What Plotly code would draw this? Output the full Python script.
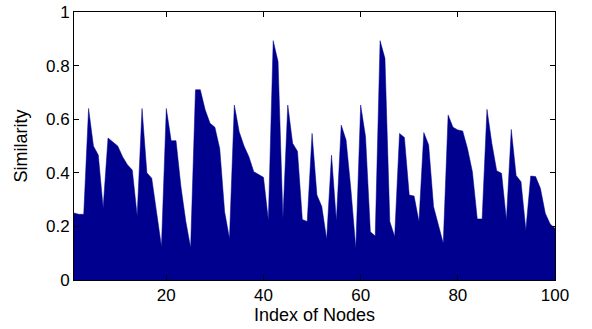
import plotly.graph_objects as go

node_index = list(range(1, 101))
similarity = [
    0.25, 0.245, 0.245, 0.64, 0.50, 0.466, 0.27, 0.53, 0.515, 0.50,
    0.46, 0.43, 0.41, 0.24, 0.64, 0.40, 0.38, 0.26, 0.125, 0.64,
    0.52, 0.52, 0.35, 0.22, 0.12, 0.71, 0.71, 0.635, 0.585, 0.57,
    0.49, 0.255, 0.155, 0.653, 0.553, 0.50, 0.46, 0.404, 0.395, 0.383,
    0.224, 0.893, 0.815, 0.23, 0.653, 0.51, 0.48, 0.226, 0.218, 0.547,
    0.317, 0.274, 0.152, 0.466, 0.221, 0.578, 0.522, 0.336, 0.118, 0.653,
    0.535, 0.18, 0.164, 0.893, 0.827, 0.218, 0.162, 0.547, 0.532, 0.317,
    0.313, 0.218, 0.55, 0.504, 0.274, 0.20, 0.137, 0.616, 0.57, 0.56,
    0.556, 0.49, 0.404, 0.228, 0.228, 0.637, 0.51, 0.408, 0.398, 0.224,
    0.562, 0.39, 0.367, 0.187, 0.388, 0.386, 0.342, 0.249, 0.209, 0.193,
]
x_ticks = [20, 40, 60, 80, 100]
y_ticks = [0, 0.2, 0.4, 0.6, 0.8, 1]
y_tick_labels = ["0", "0.2", "0.4", "0.6", "0.8", "1"]

fill_color = "#00008F"

fig = go.Figure()
fig.add_trace(go.Scatter(
    x=node_index, y=similarity, mode="lines",
    fill="tozeroy", fillcolor=fill_color,
    line=dict(color=fill_color, width=0.5),
    showlegend=False, hoverinfo="x+y",
))

font = dict(family="Liberation Sans, Arial, sans-serif", size=17, color="black")

fig.update_layout(
    width=592, height=329,
    margin=dict(l=74, r=37, t=12, b=49),
    paper_bgcolor="white", plot_bgcolor="white",
    font=font,
    xaxis=dict(
        range=[1, 100], tickvals=x_ticks, ticks="inside", ticklen=5,
        tickcolor="black", showline=True, linecolor="black", linewidth=1,
        mirror="ticks", showgrid=False, zeroline=False, automargin=False,
        ticklabeloverflow="allow",
        title=dict(text="Index of Nodes", font=dict(size=18), standoff=3),
    ),
    yaxis=dict(
        range=[0, 1], tickvals=y_ticks, ticktext=y_tick_labels,
        ticks="inside", ticklen=5, tickcolor="black", showline=True,
        linecolor="black", linewidth=1, mirror="ticks", showgrid=False,
        zeroline=False, automargin=False, ticklabeloverflow="allow",
        title=dict(text="Similarity", font=dict(size=18), standoff=13),
    ),
)

fig.write_html(
    "out.html",
    config={"displayModeBar": False},
    post_script="document.body.style.margin='0';document.body.style.overflow='hidden';",
)
